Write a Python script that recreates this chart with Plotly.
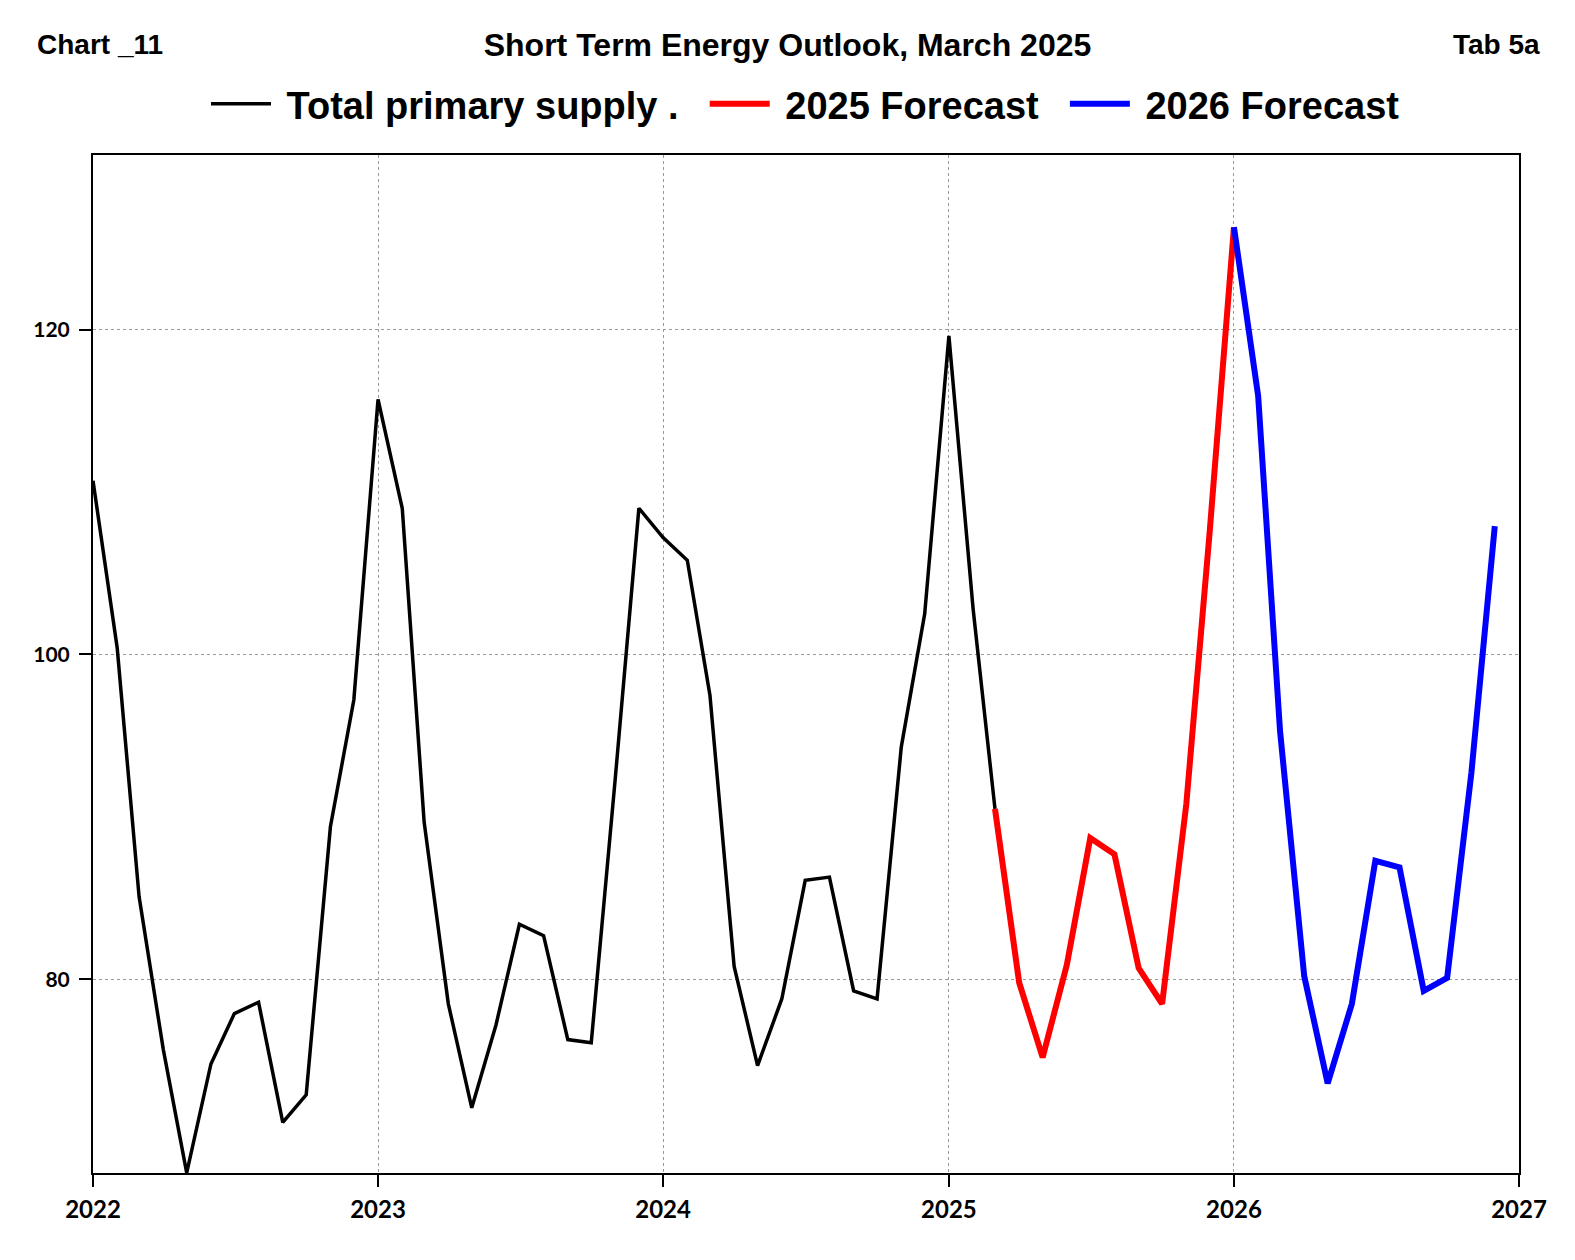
import pandas as pd
import plotly.graph_objects as go

# ---- data (monthly) ----
hist_start = "2022-01-01"
hist_values = [
    110.7, 100.4, 85.1, 75.7, 68.1, 74.8, 77.9, 78.6, 71.2, 72.9, 89.4, 97.2,   # 2022
    115.7, 109.0, 89.7, 78.5, 72.1, 77.2, 83.4, 82.7, 76.3, 76.1, 92.5, 109.0,  # 2023
    107.2, 105.8, 97.5, 80.8, 74.7, 78.8, 86.1, 86.3, 79.3, 78.8, 94.3, 102.5,  # 2024
    119.6, 102.8, 90.5,                                                         # 2025 Q1
]
f2025_start = "2025-03-01"
f2025_values = [90.5, 79.8, 75.2, 80.9, 88.7, 87.7, 80.7, 78.5, 90.8, 107.6, 126.3]
f2026_start = "2026-01-01"
f2026_values = [126.3, 115.9, 95.3, 80.2, 73.6, 78.5, 87.3, 86.9, 79.3, 80.1, 92.7, 107.9]

series_names = ["Total primary supply .", "2025 Forecast", "2026 Forecast"]
series_colors = ["#000000", "#ff0000", "#0000ff"]
series_widths = [3.5, 6, 6]

y_ticks = [80, 100, 120]
x_ticks = ["2022-01-01", "2023-01-01", "2024-01-01", "2025-01-01", "2026-01-01", "2027-01-01"]
x_ticklabels = ["2022", "2023", "2024", "2025", "2026", "2027"]

NB = "\u00a0"

def months(start, n):
    return pd.date_range(start=start, periods=n, freq="MS")

starts = [hist_start, f2025_start, f2026_start]
values = [hist_values, f2025_values, f2026_values]

fig = go.Figure()
for name, st, vals, col, w in zip(series_names, starts, values, series_colors, series_widths):
    fig.add_trace(go.Scatter(
        x=months(st, len(vals)), y=vals, mode="lines", name=NB + name + NB + NB,
        line=dict(color=col, width=w),
    ))

xtick_font = dict(family="Lato", size=24, color="#000000", weight="bold")
ytick_font = dict(family="Lato", size=21, color="#000000", weight="bold")
head_font = dict(family="Liberation Sans", size=28, color="#000000", weight="bold")

L, R, T, B = 93, 56, 155, 87
PW = 1575 - L - R
PH = 1260 - T - B

fig.update_layout(
    width=1575, height=1260,
    margin=dict(l=L, r=R, t=T, b=B),
    paper_bgcolor="white", plot_bgcolor="white",
    title=dict(text="Short Term Energy Outlook, March 2025", font=dict(family="Liberation Sans", size=32, color="#000000", weight="bold"),
               xref="container", x=0.5, xanchor="center", yref="container", y=1 - 45 / 1260, yanchor="middle"),
    showlegend=True,
    legend=dict(orientation="h", x=0.5 + 10 / PW, xanchor="center", y=1 + (T - 104) / PH, yanchor="middle",
                font=dict(family="Liberation Sans", size=38, color="#000000", weight="bold"),
                itemwidth=60, bgcolor="rgba(0,0,0,0)", traceorder="normal"),
    xaxis=dict(type="date", range=["2022-01-01", "2027-01-01"], tickmode="array",
               tickvals=x_ticks, ticktext=x_ticklabels, ticks="outside", ticklen=12, tickwidth=2,
               tickcolor="#000000", showline=True, linecolor="#000000", linewidth=2, mirror=True,
               showgrid=True, gridcolor="#9a9a9a", griddash="dot", gridwidth=1,
               tickfont=xtick_font, zeroline=False, ticklabelstandoff=2),
    yaxis=dict(range=[68.09, 130.74], tickmode="array", tickvals=y_ticks, ticks="outside",
               ticklen=12, tickwidth=2, tickcolor="#000000", showline=True, linecolor="#000000",
               linewidth=2, mirror=True, showgrid=True, gridcolor="#9a9a9a", griddash="dot",
               gridwidth=1, tickfont=ytick_font, zeroline=False, ticklabelstandoff=5),
    annotations=[
        dict(text="Chart _11", xref="paper", yref="paper", x=(35 - L) / PW, y=1 + (T - 45) / PH,
             xanchor="left", yanchor="middle", showarrow=False, font=head_font),
        dict(text="Tab 5a", xref="paper", yref="paper", x=(1542 - L) / PW, y=1 + (T - 45) / PH,
             xanchor="right", yanchor="middle", showarrow=False, font=head_font),
    ],
)

fig.write_html("out.html", config={"displayModeBar": False},
               post_script="document.body.style.margin='0';document.body.style.overflow='hidden';")
